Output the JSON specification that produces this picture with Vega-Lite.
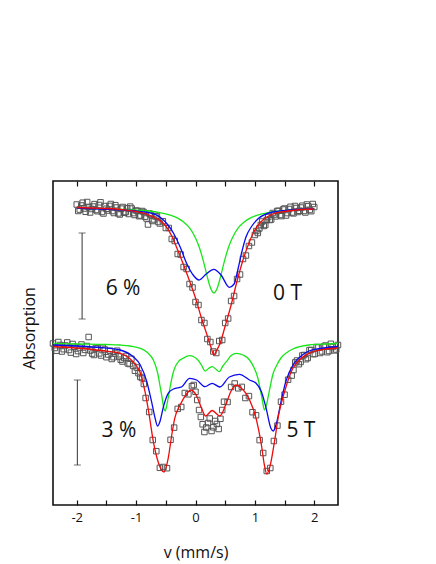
{
  "$schema": "https://vega.github.io/schema/vega-lite/v6.json",
  "width": 285,
  "height": 324,
  "autosize": {"type": "none"},
  "padding": {"left": 53, "top": 181, "right": 98, "bottom": 59},
  "config": {
    "view": {"stroke": "#111111", "strokeWidth": 1.6},
    "font": "Open Sans",
    "axis": {"grid": false, "labelColor": "#111111", "titleColor": "#111111", "tickColor": "#111111", "titleFontWeight": "normal"}
  },
  "resolve": {"axis": {"x": "independent"}},
  "datasets": {
    "pts": [
      {"v": -2.00, "y": 300.5}, {"v": -1.95, "y": 295.4}, {"v": -1.90, "y": 302.3}, {"v": -1.85, "y": 293.2},
      {"v": -1.80, "y": 298.1}, {"v": -1.75, "y": 296.0}, {"v": -1.70, "y": 300.9}, {"v": -1.65, "y": 293.8},
      {"v": -1.60, "y": 302.7}, {"v": -1.55, "y": 291.5}, {"v": -1.50, "y": 296.3}, {"v": -1.45, "y": 299.1},
      {"v": -1.40, "y": 293.9}, {"v": -1.35, "y": 299.8}, {"v": -1.30, "y": 291.6}, {"v": -1.25, "y": 296.4},
      {"v": -1.20, "y": 292.2}, {"v": -1.15, "y": 296.8}, {"v": -1.10, "y": 298.4}, {"v": -1.05, "y": 291.9},
      {"v": -1.00, "y": 294.5}, {"v": -0.95, "y": 288.8}, {"v": -0.90, "y": 294.0}, {"v": -0.85, "y": 288.3},
      {"v": -0.80, "y": 280.5}, {"v": -0.75, "y": 290.0}, {"v": -0.70, "y": 285.5}, {"v": -0.65, "y": 289.0},
      {"v": -0.60, "y": 281.5}, {"v": -0.55, "y": 283.8}, {"v": -0.50, "y": 277.0}, {"v": -0.45, "y": 277.0},
      {"v": -0.40, "y": 266.0}, {"v": -0.35, "y": 264.0}, {"v": -0.30, "y": 251.0}, {"v": -0.25, "y": 250.5},
      {"v": -0.20, "y": 238.0}, {"v": -0.15, "y": 236.0}, {"v": -0.10, "y": 221.0}, {"v": -0.05, "y": 217.5},
      {"v": 0.00, "y": 203.0}, {"v": 0.05, "y": 200.0}, {"v": 0.10, "y": 185.0}, {"v": 0.15, "y": 182.0},
      {"v": 0.20, "y": 166.0}, {"v": 0.25, "y": 163.0}, {"v": 0.30, "y": 153.5}, {"v": 0.35, "y": 152.0},
      {"v": 0.40, "y": 164.0}, {"v": 0.45, "y": 165.0}, {"v": 0.50, "y": 182.0}, {"v": 0.55, "y": 186.5},
      {"v": 0.60, "y": 204.0}, {"v": 0.65, "y": 209.0}, {"v": 0.70, "y": 226.0}, {"v": 0.75, "y": 230.5},
      {"v": 0.80, "y": 246.0}, {"v": 0.85, "y": 249.5}, {"v": 0.90, "y": 259.0}, {"v": 0.95, "y": 262.5},
      {"v": 1.00, "y": 270.0}, {"v": 1.05, "y": 272.0}, {"v": 1.10, "y": 280.0}, {"v": 1.15, "y": 279.0},
      {"v": 1.20, "y": 285.0}, {"v": 1.25, "y": 285.0}, {"v": 1.30, "y": 292.0}, {"v": 1.35, "y": 288.6},
      {"v": 1.40, "y": 294.2}, {"v": 1.45, "y": 288.9}, {"v": 1.50, "y": 296.5}, {"v": 1.55, "y": 291.9},
      {"v": 1.60, "y": 298.2}, {"v": 1.65, "y": 291.6}, {"v": 1.70, "y": 297.0}, {"v": 1.75, "y": 294.2},
      {"v": 1.80, "y": 299.3}, {"v": 1.85, "y": 292.5}, {"v": 1.90, "y": 298.7}, {"v": 1.95, "y": 293.8},
      {"v": 2.00, "y": 298.0},
      {"v": -1.975, "y": 294.0}, {"v": -1.925, "y": 299.5}, {"v": -1.875, "y": 296.5}, {"v": -1.825, "y": 303.0},
      {"v": -1.775, "y": 292.5}, {"v": -1.725, "y": 298.5}, {"v": -1.675, "y": 295.0}, {"v": -1.625, "y": 300.0},
      {"v": -1.575, "y": 293.0}, {"v": -1.525, "y": 299.0}, {"v": -1.475, "y": 294.5}, {"v": -1.425, "y": 301.0},
      {"v": -1.375, "y": 292.0}, {"v": -1.325, "y": 297.5}, {"v": -1.275, "y": 290.5}, {"v": -1.225, "y": 298.0},
      {"v": -1.175, "y": 293.0}, {"v": -1.125, "y": 291.0}, {"v": -1.075, "y": 296.5}, {"v": -1.025, "y": 290.0},
      {"v": -0.975, "y": 294.0}, {"v": -0.925, "y": 289.5}, {"v": -0.875, "y": 293.0}, {"v": -0.825, "y": 286.5},
      {"v": -0.775, "y": 291.5}, {"v": -0.725, "y": 284.0}, {"v": -0.675, "y": 288.5}, {"v": -0.625, "y": 283.0},
      {"v": 1.025, "y": 274.0}, {"v": 1.075, "y": 276.5}, {"v": 1.125, "y": 283.5}, {"v": 1.175, "y": 280.0},
      {"v": 1.225, "y": 288.0}, {"v": 1.275, "y": 285.5}, {"v": 1.325, "y": 290.5}, {"v": 1.375, "y": 294.0},
      {"v": 1.425, "y": 290.0}, {"v": 1.475, "y": 295.5}, {"v": 1.525, "y": 289.5}, {"v": 1.575, "y": 296.0},
      {"v": 1.625, "y": 292.5}, {"v": 1.675, "y": 299.0}, {"v": 1.725, "y": 293.0}, {"v": 1.775, "y": 297.5},
      {"v": 1.825, "y": 294.0}, {"v": 1.875, "y": 300.5}, {"v": 1.925, "y": 295.0}, {"v": 1.975, "y": 301.0},
      {"v": -2.40, "y": 161.5}, {"v": -2.34, "y": 154.3}, {"v": -2.28, "y": 160.0}, {"v": -2.22, "y": 155.8},
      {"v": -2.16, "y": 162.6}, {"v": -2.10, "y": 152.4}, {"v": -2.04, "y": 158.2}, {"v": -1.98, "y": 153.9},
      {"v": -1.92, "y": 160.5}, {"v": -1.86, "y": 155.1}, {"v": -1.80, "y": 168.0}, {"v": -1.74, "y": 151.4},
      {"v": -1.68, "y": 157.0}, {"v": -1.62, "y": 151.6}, {"v": -1.56, "y": 157.2}, {"v": -1.50, "y": 147.8},
      {"v": -1.44, "y": 154.3}, {"v": -1.38, "y": 147.8}, {"v": -1.32, "y": 154.3}, {"v": -1.26, "y": 145.3},
      {"v": -1.20, "y": 147.0}, {"v": -1.14, "y": 141.6}, {"v": -1.08, "y": 146.2}, {"v": -1.02, "y": 134.2},
      {"v": -0.96, "y": 131.8}, {"v": -0.90, "y": 127.0}, {"v": -0.84, "y": 107.0}, {"v": -0.78, "y": 93.0},
      {"v": -0.72, "y": 65.0}, {"v": -0.66, "y": 53.8}, {"v": -0.60, "y": 37.2}, {"v": -0.54, "y": 38.0},
      {"v": -0.48, "y": 36.8}, {"v": -0.42, "y": 65.2}, {"v": -0.36, "y": 77.4}, {"v": -0.30, "y": 96.1},
      {"v": -0.24, "y": 98.0}, {"v": -0.18, "y": 112.0}, {"v": -0.12, "y": 110.7}, {"v": -0.06, "y": 118.8},
      {"v": 0.00, "y": 113.2}, {"v": 0.06, "y": 95.0}, {"v": 0.12, "y": 80.7}, {"v": 0.18, "y": 77.5},
      {"v": 0.24, "y": 86.5}, {"v": 0.30, "y": 77.7}, {"v": 0.36, "y": 81.0}, {"v": 0.42, "y": 86.2},
      {"v": 0.48, "y": 103.3}, {"v": 0.54, "y": 103.0}, {"v": 0.60, "y": 118.0}, {"v": 0.66, "y": 121.5},
      {"v": 0.72, "y": 116.7}, {"v": 0.78, "y": 118.1}, {"v": 0.84, "y": 107.0}, {"v": 0.90, "y": 108.9},
      {"v": 0.96, "y": 92.8}, {"v": 1.02, "y": 89.7}, {"v": 1.08, "y": 64.9}, {"v": 1.14, "y": 52.0},
      {"v": 1.20, "y": 34.0}, {"v": 1.26, "y": 37.0}, {"v": 1.32, "y": 64.0}, {"v": 1.38, "y": 79.4},
      {"v": 1.44, "y": 103.3}, {"v": 1.50, "y": 110.3}, {"v": 1.56, "y": 125.3}, {"v": 1.62, "y": 129.4},
      {"v": 1.68, "y": 142.6}, {"v": 1.74, "y": 140.8}, {"v": 1.80, "y": 149.5}, {"v": 1.86, "y": 145.8},
      {"v": 1.92, "y": 154.9}, {"v": 1.98, "y": 150.9}, {"v": 2.04, "y": 158.0}, {"v": 2.10, "y": 152.0},
      {"v": 2.16, "y": 158.4}, {"v": 2.22, "y": 152.8}, {"v": 2.28, "y": 161.2}, {"v": 2.34, "y": 154.6},
      {"v": 2.40, "y": 160.0},
      {"v": 0.09, "y": 88.0}, {"v": 0.15, "y": 73.0}, {"v": 0.21, "y": 82.0}, {"v": 0.27, "y": 74.0},
      {"v": 0.33, "y": 84.0}, {"v": 0.39, "y": 76.0}, {"v": 0.45, "y": 95.0}, {"v": -0.03, "y": 120.0},
      {"v": 0.03, "y": 105.0},
      {"v": -2.37, "y": 157.0}, {"v": -2.31, "y": 163.0}, {"v": -2.25, "y": 153.5}, {"v": -2.19, "y": 159.5},
      {"v": -2.13, "y": 155.0}, {"v": -2.07, "y": 161.0}, {"v": -2.01, "y": 151.0}, {"v": -1.95, "y": 157.5},
      {"v": -1.89, "y": 152.0}, {"v": -1.83, "y": 159.0}, {"v": -1.77, "y": 154.5}, {"v": -1.71, "y": 150.0},
      {"v": -1.65, "y": 156.5}, {"v": -1.59, "y": 149.5}, {"v": -1.53, "y": 155.5}, {"v": -1.47, "y": 150.5},
      {"v": -1.41, "y": 146.0}, {"v": -1.35, "y": 151.5}, {"v": -1.29, "y": 148.5}, {"v": -1.23, "y": 143.5},
      {"v": -1.17, "y": 149.0}, {"v": -1.11, "y": 141.0}, {"v": -1.05, "y": 139.0}, {"v": -0.99, "y": 137.5},
      {"v": -0.93, "y": 128.0}, {"v": -0.87, "y": 121.0},
      {"v": 1.65, "y": 135.0}, {"v": 1.71, "y": 144.5}, {"v": 1.77, "y": 143.0}, {"v": 1.83, "y": 150.0},
      {"v": 1.89, "y": 147.0}, {"v": 1.95, "y": 155.0}, {"v": 2.01, "y": 151.0}, {"v": 2.07, "y": 157.5},
      {"v": 2.13, "y": 153.5}, {"v": 2.19, "y": 159.5}, {"v": 2.25, "y": 154.0}, {"v": 2.31, "y": 158.0},
      {"v": 2.37, "y": 155.5}
    ],
    "curves": [
      {"s": "0T", "c": "green", "v": -2.0, "y": 296.7}, {"s": "0T", "c": "green", "v": -1.6, "y": 296.3},
      {"s": "0T", "c": "green", "v": -1.2, "y": 295.6}, {"s": "0T", "c": "green", "v": -1.0, "y": 294.9},
      {"s": "0T", "c": "green", "v": -0.8, "y": 294.0}, {"s": "0T", "c": "green", "v": -0.6, "y": 292.4},
      {"s": "0T", "c": "green", "v": -0.5, "y": 291.1}, {"s": "0T", "c": "green", "v": -0.4, "y": 289.4},
      {"s": "0T", "c": "green", "v": -0.3, "y": 286.9}, {"s": "0T", "c": "green", "v": -0.2, "y": 283.1},
      {"s": "0T", "c": "green", "v": -0.1, "y": 277.1}, {"s": "0T", "c": "green", "v": 0.0, "y": 267.1},
      {"s": "0T", "c": "green", "v": 0.05, "y": 260.0}, {"s": "0T", "c": "green", "v": 0.1, "y": 250.9},
      {"s": "0T", "c": "green", "v": 0.15, "y": 239.9}, {"s": "0T", "c": "green", "v": 0.2, "y": 227.9},
      {"s": "0T", "c": "green", "v": 0.25, "y": 217.5}, {"s": "0T", "c": "green", "v": 0.31, "y": 212.0},
      {"s": "0T", "c": "green", "v": 0.37, "y": 217.5}, {"s": "0T", "c": "green", "v": 0.42, "y": 227.9},
      {"s": "0T", "c": "green", "v": 0.47, "y": 239.9}, {"s": "0T", "c": "green", "v": 0.52, "y": 250.9},
      {"s": "0T", "c": "green", "v": 0.57, "y": 260.0}, {"s": "0T", "c": "green", "v": 0.62, "y": 267.1},
      {"s": "0T", "c": "green", "v": 0.72, "y": 277.1}, {"s": "0T", "c": "green", "v": 0.82, "y": 283.1},
      {"s": "0T", "c": "green", "v": 0.92, "y": 286.9}, {"s": "0T", "c": "green", "v": 1.02, "y": 289.4},
      {"s": "0T", "c": "green", "v": 1.12, "y": 291.1}, {"s": "0T", "c": "green", "v": 1.22, "y": 292.4},
      {"s": "0T", "c": "green", "v": 1.42, "y": 294.0}, {"s": "0T", "c": "green", "v": 1.62, "y": 294.9},
      {"s": "0T", "c": "green", "v": 2.0, "y": 295.9},

      {"s": "0T", "c": "blue", "v": -2.0, "y": 297.0}, {"s": "0T", "c": "blue", "v": -1.6, "y": 296.0},
      {"s": "0T", "c": "blue", "v": -1.2, "y": 295.0}, {"s": "0T", "c": "blue", "v": -1.0, "y": 294.0},
      {"s": "0T", "c": "blue", "v": -0.8, "y": 292.5}, {"s": "0T", "c": "blue", "v": -0.6, "y": 288.0},
      {"s": "0T", "c": "blue", "v": -0.54, "y": 285.0}, {"s": "0T", "c": "blue", "v": -0.45, "y": 279.0},
      {"s": "0T", "c": "blue", "v": -0.37, "y": 271.7}, {"s": "0T", "c": "blue", "v": -0.26, "y": 258.3},
      {"s": "0T", "c": "blue", "v": -0.15, "y": 241.7}, {"s": "0T", "c": "blue", "v": -0.04, "y": 230.0},
      {"s": "0T", "c": "blue", "v": 0.06, "y": 225.0}, {"s": "0T", "c": "blue", "v": 0.18, "y": 231.0},
      {"s": "0T", "c": "blue", "v": 0.31, "y": 235.7}, {"s": "0T", "c": "blue", "v": 0.43, "y": 230.0},
      {"s": "0T", "c": "blue", "v": 0.57, "y": 217.7}, {"s": "0T", "c": "blue", "v": 0.65, "y": 221.0},
      {"s": "0T", "c": "blue", "v": 0.72, "y": 237.0}, {"s": "0T", "c": "blue", "v": 0.78, "y": 253.0},
      {"s": "0T", "c": "blue", "v": 0.85, "y": 268.0}, {"s": "0T", "c": "blue", "v": 0.95, "y": 279.0},
      {"s": "0T", "c": "blue", "v": 1.05, "y": 286.0}, {"s": "0T", "c": "blue", "v": 1.3, "y": 293.0},
      {"s": "0T", "c": "blue", "v": 1.6, "y": 295.0}, {"s": "0T", "c": "blue", "v": 2.0, "y": 296.0},

      {"s": "0T", "c": "red", "v": -2.0, "y": 297.5}, {"s": "0T", "c": "red", "v": -1.6, "y": 296.7},
      {"s": "0T", "c": "red", "v": -1.2, "y": 295.2}, {"s": "0T", "c": "red", "v": -1.0, "y": 293.5},
      {"s": "0T", "c": "red", "v": -0.8, "y": 290.5}, {"s": "0T", "c": "red", "v": -0.6, "y": 284.5},
      {"s": "0T", "c": "red", "v": -0.5, "y": 279.0}, {"s": "0T", "c": "red", "v": -0.4, "y": 269.0},
      {"s": "0T", "c": "red", "v": -0.3, "y": 255.0}, {"s": "0T", "c": "red", "v": -0.2, "y": 240.0},
      {"s": "0T", "c": "red", "v": -0.1, "y": 224.0}, {"s": "0T", "c": "red", "v": 0.0, "y": 207.0},
      {"s": "0T", "c": "red", "v": 0.1, "y": 187.0}, {"s": "0T", "c": "red", "v": 0.2, "y": 169.0},
      {"s": "0T", "c": "red", "v": 0.26, "y": 158.0}, {"s": "0T", "c": "red", "v": 0.31, "y": 150.0},
      {"s": "0T", "c": "red", "v": 0.36, "y": 155.0}, {"s": "0T", "c": "red", "v": 0.41, "y": 161.0},
      {"s": "0T", "c": "red", "v": 0.5, "y": 179.0}, {"s": "0T", "c": "red", "v": 0.6, "y": 200.0},
      {"s": "0T", "c": "red", "v": 0.7, "y": 224.0}, {"s": "0T", "c": "red", "v": 0.8, "y": 245.0},
      {"s": "0T", "c": "red", "v": 0.9, "y": 262.0}, {"s": "0T", "c": "red", "v": 1.0, "y": 275.0},
      {"s": "0T", "c": "red", "v": 1.1, "y": 283.0}, {"s": "0T", "c": "red", "v": 1.3, "y": 291.0},
      {"s": "0T", "c": "red", "v": 1.5, "y": 293.5}, {"s": "0T", "c": "red", "v": 1.7, "y": 295.0},
      {"s": "0T", "c": "red", "v": 2.0, "y": 296.0},

      {"s": "5T", "c": "green", "v": -2.4, "y": 161.5}, {"s": "5T", "c": "green", "v": -2.0, "y": 161.0},
      {"s": "5T", "c": "green", "v": -1.5, "y": 160.5}, {"s": "5T", "c": "green", "v": -1.27, "y": 160.0},
      {"s": "5T", "c": "green", "v": -1.1, "y": 159.0}, {"s": "5T", "c": "green", "v": -0.93, "y": 156.7},
      {"s": "5T", "c": "green", "v": -0.8, "y": 152.0}, {"s": "5T", "c": "green", "v": -0.71, "y": 145.0},
      {"s": "5T", "c": "green", "v": -0.66, "y": 137.0}, {"s": "5T", "c": "green", "v": -0.63, "y": 130.0},
      {"s": "5T", "c": "green", "v": -0.6, "y": 120.0}, {"s": "5T", "c": "green", "v": -0.57, "y": 110.0},
      {"s": "5T", "c": "green", "v": -0.53, "y": 96.0}, {"s": "5T", "c": "green", "v": -0.51, "y": 94.0},
      {"s": "5T", "c": "green", "v": -0.49, "y": 98.0}, {"s": "5T", "c": "green", "v": -0.46, "y": 107.0},
      {"s": "5T", "c": "green", "v": -0.43, "y": 117.0}, {"s": "5T", "c": "green", "v": -0.39, "y": 129.0},
      {"s": "5T", "c": "green", "v": -0.35, "y": 137.0}, {"s": "5T", "c": "green", "v": -0.28, "y": 144.0},
      {"s": "5T", "c": "green", "v": -0.21, "y": 146.7}, {"s": "5T", "c": "green", "v": -0.1, "y": 149.3},
      {"s": "5T", "c": "green", "v": 0.04, "y": 145.0}, {"s": "5T", "c": "green", "v": 0.1, "y": 140.0},
      {"s": "5T", "c": "green", "v": 0.16, "y": 134.0}, {"s": "5T", "c": "green", "v": 0.22, "y": 136.5},
      {"s": "5T", "c": "green", "v": 0.28, "y": 138.3}, {"s": "5T", "c": "green", "v": 0.34, "y": 136.0},
      {"s": "5T", "c": "green", "v": 0.4, "y": 133.3}, {"s": "5T", "c": "green", "v": 0.46, "y": 139.0},
      {"s": "5T", "c": "green", "v": 0.52, "y": 143.3}, {"s": "5T", "c": "green", "v": 0.6, "y": 149.5},
      {"s": "5T", "c": "green", "v": 0.69, "y": 151.7}, {"s": "5T", "c": "green", "v": 0.8, "y": 150.0},
      {"s": "5T", "c": "green", "v": 0.91, "y": 145.0}, {"s": "5T", "c": "green", "v": 0.98, "y": 138.0},
      {"s": "5T", "c": "green", "v": 1.05, "y": 127.0}, {"s": "5T", "c": "green", "v": 1.09, "y": 116.0},
      {"s": "5T", "c": "green", "v": 1.13, "y": 103.3}, {"s": "5T", "c": "green", "v": 1.16, "y": 95.0},
      {"s": "5T", "c": "green", "v": 1.19, "y": 99.0}, {"s": "5T", "c": "green", "v": 1.22, "y": 107.0},
      {"s": "5T", "c": "green", "v": 1.26, "y": 119.0}, {"s": "5T", "c": "green", "v": 1.3, "y": 130.0},
      {"s": "5T", "c": "green", "v": 1.37, "y": 140.0}, {"s": "5T", "c": "green", "v": 1.44, "y": 147.0},
      {"s": "5T", "c": "green", "v": 1.54, "y": 152.5}, {"s": "5T", "c": "green", "v": 1.64, "y": 156.0},
      {"s": "5T", "c": "green", "v": 1.91, "y": 160.0}, {"s": "5T", "c": "green", "v": 2.2, "y": 161.0},
      {"s": "5T", "c": "green", "v": 2.4, "y": 161.5},

      {"s": "5T", "c": "blue", "v": -2.4, "y": 160.0}, {"s": "5T", "c": "blue", "v": -2.0, "y": 159.0},
      {"s": "5T", "c": "blue", "v": -1.6, "y": 157.5}, {"s": "5T", "c": "blue", "v": -1.27, "y": 155.0},
      {"s": "5T", "c": "blue", "v": -1.05, "y": 148.3}, {"s": "5T", "c": "blue", "v": -0.93, "y": 140.0},
      {"s": "5T", "c": "blue", "v": -0.82, "y": 123.3}, {"s": "5T", "c": "blue", "v": -0.74, "y": 103.3},
      {"s": "5T", "c": "blue", "v": -0.68, "y": 86.7}, {"s": "5T", "c": "blue", "v": -0.64, "y": 79.0},
      {"s": "5T", "c": "blue", "v": -0.6, "y": 83.3}, {"s": "5T", "c": "blue", "v": -0.54, "y": 98.3},
      {"s": "5T", "c": "blue", "v": -0.46, "y": 111.7}, {"s": "5T", "c": "blue", "v": -0.37, "y": 116.0},
      {"s": "5T", "c": "blue", "v": -0.23, "y": 118.3}, {"s": "5T", "c": "blue", "v": -0.1, "y": 126.7},
      {"s": "5T", "c": "blue", "v": 0.02, "y": 125.0}, {"s": "5T", "c": "blue", "v": 0.16, "y": 118.3},
      {"s": "5T", "c": "blue", "v": 0.28, "y": 121.7}, {"s": "5T", "c": "blue", "v": 0.41, "y": 118.0},
      {"s": "5T", "c": "blue", "v": 0.57, "y": 128.0}, {"s": "5T", "c": "blue", "v": 0.74, "y": 130.7},
      {"s": "5T", "c": "blue", "v": 0.91, "y": 125.0}, {"s": "5T", "c": "blue", "v": 1.02, "y": 121.7},
      {"s": "5T", "c": "blue", "v": 1.11, "y": 113.3}, {"s": "5T", "c": "blue", "v": 1.19, "y": 96.7},
      {"s": "5T", "c": "blue", "v": 1.27, "y": 76.7}, {"s": "5T", "c": "blue", "v": 1.31, "y": 74.0},
      {"s": "5T", "c": "blue", "v": 1.37, "y": 83.3}, {"s": "5T", "c": "blue", "v": 1.44, "y": 103.3},
      {"s": "5T", "c": "blue", "v": 1.52, "y": 123.3}, {"s": "5T", "c": "blue", "v": 1.66, "y": 141.7},
      {"s": "5T", "c": "blue", "v": 1.8, "y": 150.0}, {"s": "5T", "c": "blue", "v": 1.91, "y": 154.0},
      {"s": "5T", "c": "blue", "v": 2.1, "y": 156.5}, {"s": "5T", "c": "blue", "v": 2.4, "y": 158.5},

      {"s": "5T", "c": "red", "v": -2.4, "y": 158.5}, {"s": "5T", "c": "red", "v": -2.0, "y": 157.0},
      {"s": "5T", "c": "red", "v": -1.6, "y": 154.5}, {"s": "5T", "c": "red", "v": -1.27, "y": 151.7},
      {"s": "5T", "c": "red", "v": -1.05, "y": 143.0}, {"s": "5T", "c": "red", "v": -0.93, "y": 132.0},
      {"s": "5T", "c": "red", "v": -0.85, "y": 113.3}, {"s": "5T", "c": "red", "v": -0.78, "y": 90.0},
      {"s": "5T", "c": "red", "v": -0.71, "y": 63.3}, {"s": "5T", "c": "red", "v": -0.63, "y": 43.3},
      {"s": "5T", "c": "red", "v": -0.53, "y": 33.0}, {"s": "5T", "c": "red", "v": -0.46, "y": 46.7},
      {"s": "5T", "c": "red", "v": -0.4, "y": 70.0}, {"s": "5T", "c": "red", "v": -0.35, "y": 86.7},
      {"s": "5T", "c": "red", "v": -0.26, "y": 100.0}, {"s": "5T", "c": "red", "v": -0.15, "y": 111.0},
      {"s": "5T", "c": "red", "v": -0.08, "y": 115.0}, {"s": "5T", "c": "red", "v": 0.02, "y": 109.0},
      {"s": "5T", "c": "red", "v": 0.1, "y": 97.0}, {"s": "5T", "c": "red", "v": 0.17, "y": 89.0},
      {"s": "5T", "c": "red", "v": 0.28, "y": 94.5}, {"s": "5T", "c": "red", "v": 0.41, "y": 89.0},
      {"s": "5T", "c": "red", "v": 0.52, "y": 102.0}, {"s": "5T", "c": "red", "v": 0.6, "y": 114.0},
      {"s": "5T", "c": "red", "v": 0.68, "y": 120.0}, {"s": "5T", "c": "red", "v": 0.77, "y": 117.0},
      {"s": "5T", "c": "red", "v": 0.91, "y": 105.0}, {"s": "5T", "c": "red", "v": 1.02, "y": 86.7},
      {"s": "5T", "c": "red", "v": 1.11, "y": 60.0}, {"s": "5T", "c": "red", "v": 1.16, "y": 40.0},
      {"s": "5T", "c": "red", "v": 1.2, "y": 31.0}, {"s": "5T", "c": "red", "v": 1.26, "y": 40.0},
      {"s": "5T", "c": "red", "v": 1.33, "y": 63.3}, {"s": "5T", "c": "red", "v": 1.4, "y": 90.0},
      {"s": "5T", "c": "red", "v": 1.5, "y": 113.3}, {"s": "5T", "c": "red", "v": 1.64, "y": 136.7},
      {"s": "5T", "c": "red", "v": 1.78, "y": 146.7}, {"s": "5T", "c": "red", "v": 1.91, "y": 151.7},
      {"s": "5T", "c": "red", "v": 2.1, "y": 155.0}, {"s": "5T", "c": "red", "v": 2.4, "y": 157.0}
    ],
    "bars": [
      {"v": -1.91, "lo": 186, "hi": 272},
      {"v": -1.99, "lo": 40, "hi": 125}
    ],
    "labels": [
      {"v": -1.22, "y": 210, "t": "6 %"},
      {"v": 1.55, "y": 205, "t": "0 T"},
      {"v": -1.29, "y": 68.3, "t": "3 %"},
      {"v": 1.775, "y": 67.7, "t": "5 T"}
    ]
  },
  "layer": [
    {
      "data": {"name": "pts"},
      "mark": {"type": "point", "shape": "square", "filled": false, "stroke": "#555555", "strokeWidth": 1, "size": 30, "opacity": 1},
      "encoding": {
        "x": {
          "field": "v", "type": "quantitative",
          "scale": {"domain": [-2.4, 2.4], "nice": false, "zero": false},
          "axis": {
            "orient": "bottom", "values": [-2, -1.5, -1, -0.5, 0, 0.5, 1, 1.5, 2],
            "tickSize": -5, "tickWidth": 1.2, "domain": false,
            "labelExpr": "datum.value % 1 === 0 ? '' + datum.value : ''",
            "labelFontSize": 13, "labelPadding": 11, "labelFont": "Open Sans",
            "title": "v (mm/s)", "titleFontSize": 16, "titleFont": "Open Sans", "titlePadding": 20
          }
        },
        "y": {
          "field": "y", "type": "quantitative",
          "scale": {"domain": [0, 324], "nice": false, "zero": false},
          "axis": {
            "orient": "left", "labels": false, "ticks": false, "domain": false,
            "title": "Absorption", "titleFontSize": 16, "titleFont": "Open Sans", "titlePadding": 16, "titleY": 147
          }
        }
      }
    },
    {
      "data": {"name": "pts"},
      "mark": {"type": "point", "opacity": 0},
      "encoding": {
        "x": {
          "field": "v", "type": "quantitative",
          "axis": {
            "orient": "top", "values": [-2, -1.5, -1, -0.5, 0, 0.5, 1, 1.5, 2],
            "tickSize": -5, "tickWidth": 1.2, "domain": false, "labels": false, "title": null
          }
        },
        "y": {"field": "y", "type": "quantitative"}
      }
    },
    {
      "data": {"name": "curves"},
      "transform": [{"filter": "datum.c === 'green'"}],
      "mark": {"type": "line", "color": "#19e619", "strokeWidth": 1.3, "interpolate": "monotone"},
      "encoding": {
        "x": {"field": "v", "type": "quantitative", "axis": null},
        "y": {"field": "y", "type": "quantitative"},
        "detail": {"field": "s"}
      }
    },
    {
      "data": {"name": "curves"},
      "transform": [{"filter": "datum.c === 'blue'"}],
      "mark": {"type": "line", "color": "#0a0af0", "strokeWidth": 1.3, "interpolate": "monotone"},
      "encoding": {
        "x": {"field": "v", "type": "quantitative", "axis": null},
        "y": {"field": "y", "type": "quantitative"},
        "detail": {"field": "s"}
      }
    },
    {
      "data": {"name": "curves"},
      "transform": [{"filter": "datum.c === 'red'"}],
      "mark": {"type": "line", "color": "#f00a0a", "strokeWidth": 1.3, "interpolate": "monotone"},
      "encoding": {
        "x": {"field": "v", "type": "quantitative", "axis": null},
        "y": {"field": "y", "type": "quantitative"},
        "detail": {"field": "s"}
      }
    },
    {
      "data": {"name": "bars"},
      "mark": {"type": "rule", "color": "#333333", "strokeWidth": 1},
      "encoding": {
        "x": {"field": "v", "type": "quantitative", "axis": null},
        "y": {"field": "lo", "type": "quantitative"},
        "y2": {"field": "hi"}
      }
    },
    {
      "data": {"name": "bars"},
      "mark": {"type": "tick", "orient": "horizontal", "color": "#333333", "thickness": 1, "size": 7},
      "encoding": {
        "x": {"field": "v", "type": "quantitative", "axis": null},
        "y": {"field": "lo", "type": "quantitative"}
      }
    },
    {
      "data": {"name": "bars"},
      "mark": {"type": "tick", "orient": "horizontal", "color": "#333333", "thickness": 1, "size": 7},
      "encoding": {
        "x": {"field": "v", "type": "quantitative", "axis": null},
        "y": {"field": "hi", "type": "quantitative"}
      }
    },
    {
      "data": {"name": "labels"},
      "mark": {"type": "text", "font": "Open Sans", "fontSize": 21, "align": "center", "baseline": "alphabetic", "color": "#111111"},
      "encoding": {
        "x": {"field": "v", "type": "quantitative", "axis": null},
        "y": {"field": "y", "type": "quantitative"},
        "text": {"field": "t"}
      }
    }
  ]
}
